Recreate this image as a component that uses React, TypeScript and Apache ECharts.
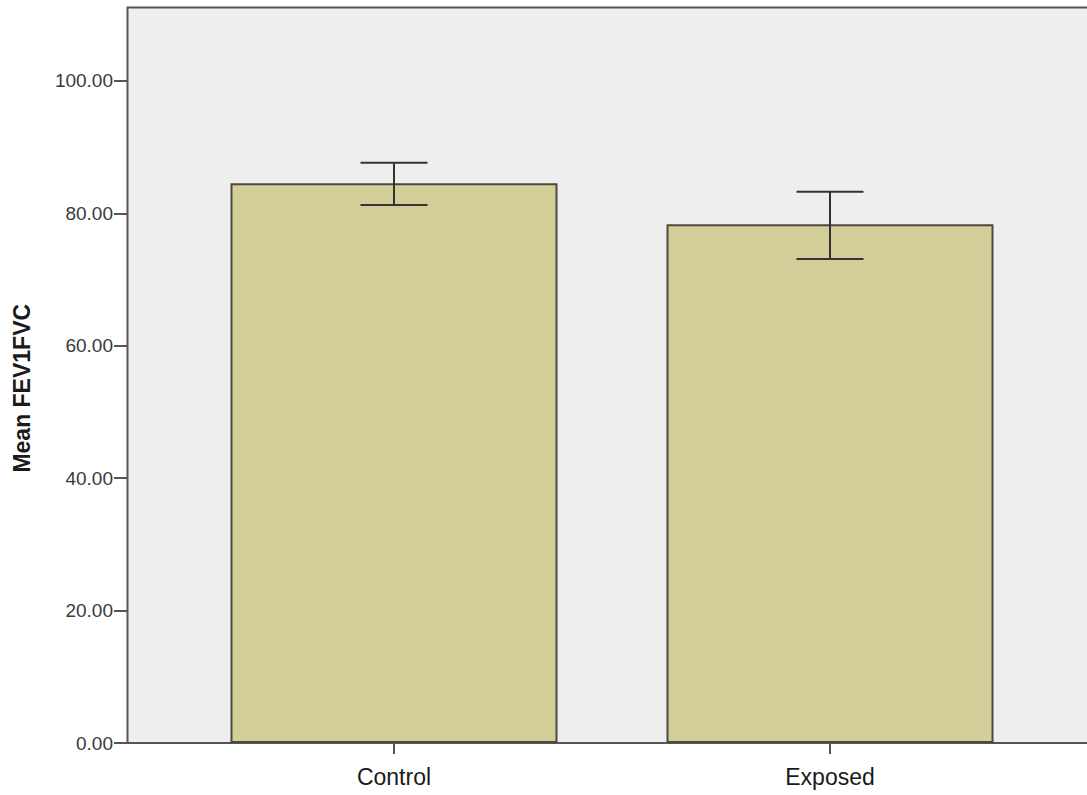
import React, { useEffect, useRef } from "react";
import * as echarts from "echarts";

const categories = ["Control", "Exposed"];
const means = [84.55, 78.35];
const errLower = [81.27, 73.11];
const errUpper = [87.66, 83.28];
const yTicks = [0, 20, 40, 60, 80, 100];

export default function App() {
  const ref = useRef<HTMLDivElement>(null);
  useEffect(() => {
    if (!ref.current) return;
    const chart = echarts.init(ref.current, null, { renderer: "svg" });
    const errData = categories.map((_, i) => [i, errLower[i], errUpper[i]]);
    chart.setOption({
      animation: false,
      backgroundColor: "#ffffff",
      grid: { left: 176, right: 39, top: 7.5, bottom: 52 },
      graphic: [
        {
          type: "rect",
          z: -10,
          shape: { x: 127.5, y: 7.5, width: 990, height: 735.5 },
          style: { fill: "#EEEEEF", stroke: "#555555", lineWidth: 2 },
        },
      ],
      xAxis: {
        type: "category",
        data: categories,
        axisLine: { show: false },
        axisTick: {
          show: true,
          alignWithLabel: true,
          length: 11,
          lineStyle: { color: "#555555", width: 2 },
        },
        axisLabel: {
          margin: 22,
          fontFamily: "Liberation Sans, Arial, sans-serif",
          fontSize: 23,
          color: "#1a1a1a",
        },
        splitLine: { show: false },
      },
      yAxis: {
        type: "value",
        min: 0,
        max: 111.1,
        interval: 20,
        offset: 49,
        name: "Mean FEV1FVC",
        nameLocation: "middle",
        nameGap: 94,
        nameTextStyle: {
          fontFamily: "Liberation Sans, Arial, sans-serif",
          fontSize: 23,
          fontWeight: "bold",
          color: "#1a1a1a",
          padding: [0, 26, 0, 0],
        },
        axisLine: { show: false },
        axisTick: {
          show: true,
          length: 13,
          customValues: yTicks,
          lineStyle: { color: "#555555", width: 2 },
        },
        axisLabel: {
          margin: 14,
          customValues: yTicks,
          fontFamily: "Liberation Sans, Arial, sans-serif",
          fontSize: 19,
          color: "#3a3a3a",
          formatter: (v: number) => v.toFixed(2),
        },
        splitLine: { show: false },
      },
      series: [
        {
          type: "bar",
          data: means,
          barWidth: 327,
          itemStyle: { color: "#D3CE98", borderColor: "#4a4a40", borderWidth: 2 },
        },
        {
          type: "custom",
          data: errData,
          z: 5,
          renderItem: (params: any, api: any) => {
            const x = api.value(0);
            const lo = api.coord([x, api.value(1)]);
            const hi = api.coord([x, api.value(2)]);
            const half = 33.5;
            const style = { stroke: "#333333", lineWidth: 2 };
            return {
              type: "group",
              children: [
                { type: "line", shape: { x1: hi[0], y1: hi[1], x2: lo[0], y2: lo[1] }, style },
                { type: "line", shape: { x1: hi[0] - half, y1: hi[1], x2: hi[0] + half, y2: hi[1] }, style },
                { type: "line", shape: { x1: lo[0] - half, y1: lo[1], x2: lo[0] + half, y2: lo[1] }, style },
              ],
            };
          },
        },
      ],
    });
    return () => chart.dispose();
  }, []);
  return (
    <div
      ref={ref}
      style={{ position: "fixed", left: 0, top: 0, width: 1087, height: 795 }}
    />
  );
}
